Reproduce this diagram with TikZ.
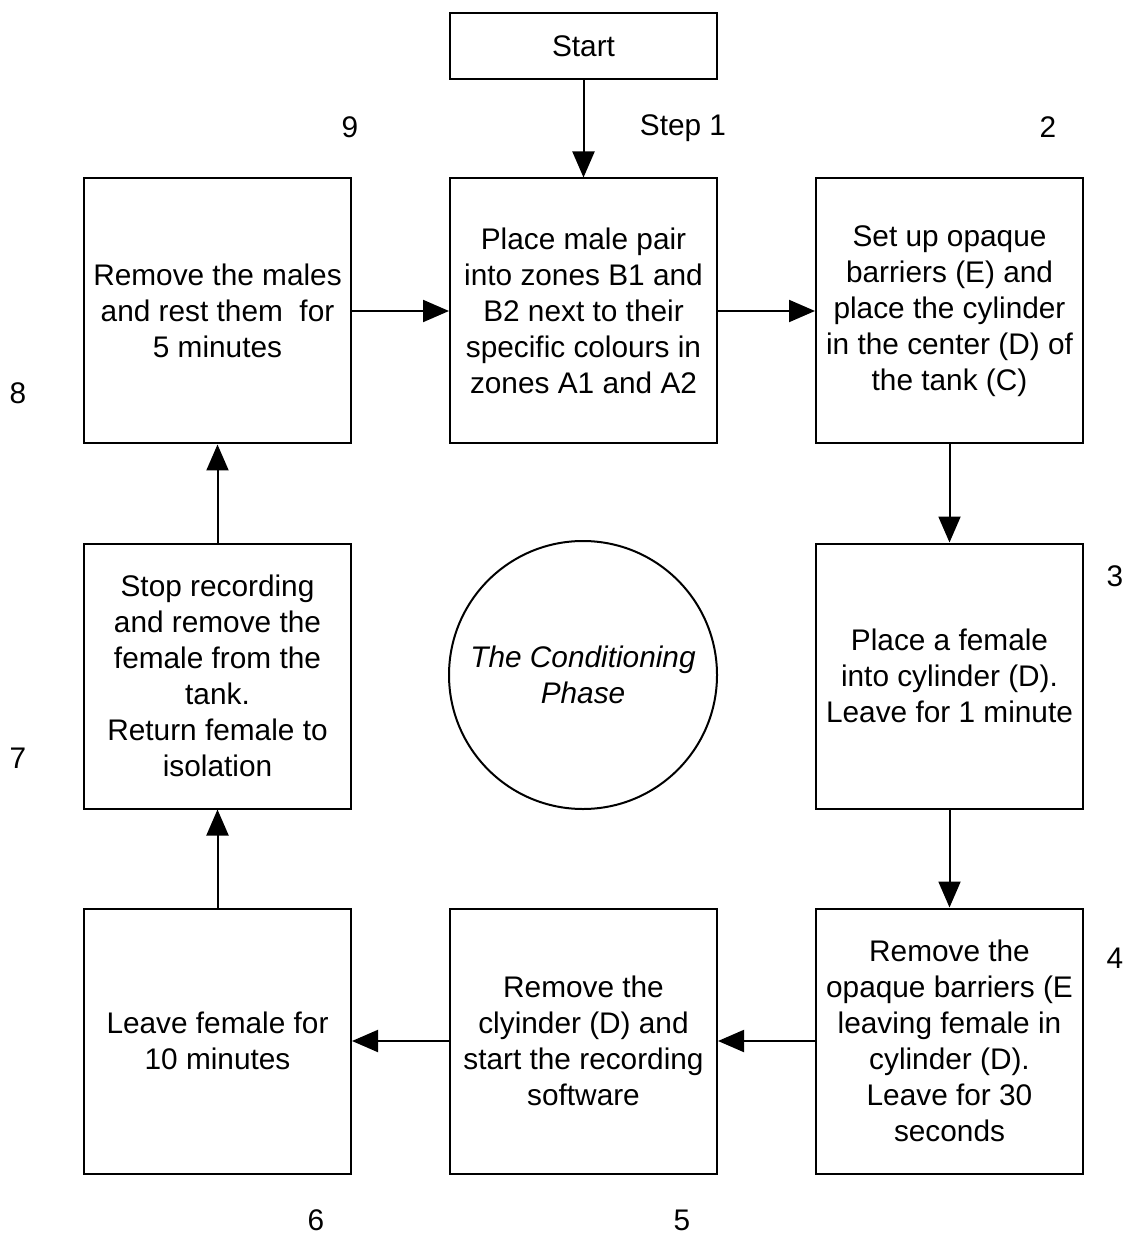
\documentclass[tikz,border=0pt]{standalone}
\usepackage{fontspec}
\setmainfont{Liberation Sans}
\usetikzlibrary{arrows.meta}
\begin{document}
\begin{tikzpicture}[x=0.5pt,y=-0.5pt,
  box/.style={draw,line width=1pt,minimum width=133.5pt,minimum height=132.5pt,align=center,inner sep=0pt,font=\fontsize{14.9}{18}\selectfont},
  startbox/.style={draw,line width=1pt,minimum width=133.5pt,minimum height=33pt,inner sep=0pt,font=\fontsize{14.9}{18}\selectfont},
  lbl/.style={font=\fontsize{14.9}{18}\selectfont,inner sep=0pt},
  arr/.style={line width=1pt,-{Triangle[length=13pt,width=11pt]}}]
\useasboundingbox (0,0) rectangle (1129,1234);
\node[startbox] (start) at (583.5,46) {Start};
\node[box] (s1) at (583.5,311) {Place male pair\\into zones B1 and\\B2 next to their\\specific colours in\\zones A1 and A2};
\node[box] (s2) at (949.5,311) {Set up opaque\\barriers (E) and\\place the cylinder\\in the center (D) of\\the tank (C)};
\node[box] (s9) at (217.5,311) {Remove the males\\and rest them\ \ for\\5 minutes};
\node[box] (s3) at (949.5,676) {Place a female\\into cylinder (D).\\Leave for 1 minute};
\node[box] (s7) at (217.5,676) {Stop recording\\and remove the\\female from the\\tank.\\Return female to\\isolation};
\node[box] (s4) at (949.5,1041) {Remove the\\opaque barriers (E\\leaving female in\\cylinder (D).\\Leave for 30\\seconds};
\node[box] (s5) at (583.5,1041) {Remove the\\clyinder (D) and\\start the recording\\software};
\node[box] (s6) at (217.5,1041) {Leave female for\\10 minutes};
\node[draw,line width=1pt,circle,minimum size=134pt,inner sep=0pt,align=center,font=\fontsize{14.9}{18}\selectfont\itshape] (ph) at (583,675) {The Conditioning\\Phase};
\node[lbl] (n9) at (350,127) {9};
\node[lbl] (n1) at (683,128) {Step 1};
\node[lbl] (n2) at (1048,127) {2};
\node[lbl] (n8) at (18,393) {8};
\node[lbl] (n3) at (1115,576) {3};
\node[lbl] (n7) at (18,758) {7};
\node[lbl] (n4) at (1115,958) {4};
\node[lbl] (n6) at (316,1220) {6};
\node[lbl] (n5) at (682,1220) {5};
\draw[arr] (start) -- (s1);
\draw[arr] (s9) -- (s1);
\draw[arr] (s1) -- (s2);
\draw[arr] (s2) -- (s3);
\draw[arr] (s3) -- (s4);
\draw[arr] (s4) -- (s5);
\draw[arr] (s5) -- (s6);
\draw[arr] (s6) -- (s7);
\draw[arr] (s7) -- (s9);
\end{tikzpicture}
\end{document}
